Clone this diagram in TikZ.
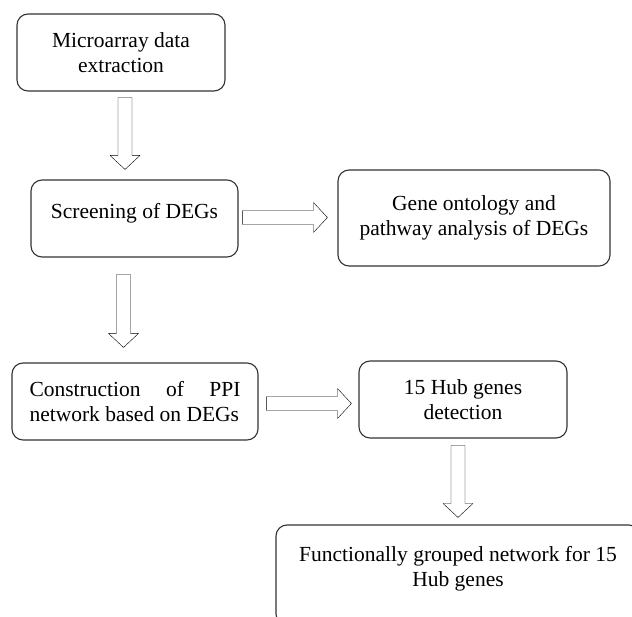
\documentclass[tikz,border=0pt]{standalone}
\usepackage{fontspec}
\setmainfont{Liberation Serif}
\usetikzlibrary{calc}

\begin{document}
\begin{tikzpicture}[x=1pt,y=-1pt, line join=round, font=\fontsize{21.5}{25}\selectfont,
	box/.style={draw=black!80, line width=1.1pt, rounded corners=11pt, align=center, inner sep=0pt},
	darr/.style={draw=black!70, line width=1.1pt, to path={let \p1=(\tikztostart), \p2=(\tikztotarget) in
		(\x1-7pt,\y1) -- (\x1-7pt,\y2+14pt) -- (\x1-15pt,\y2+14pt) -- (\x1,\y2) -- (\x1+15pt,\y2+14pt) -- (\x1+7pt,\y2+14pt) -- (\x1+7pt,\y1) -- cycle}},
	rarr/.style={draw=black!70, line width=1.1pt, to path={let \p1=(\tikztostart), \p2=(\tikztotarget) in
		(\x1,\y1+7pt) -- (\x2-14pt,\y1+7pt) -- (\x2-14pt,\y1+15pt) -- (\x2,\y1) -- (\x2-14pt,\y1-15pt) -- (\x2-14pt,\y1-7pt) -- (\x1,\y1-7pt) -- cycle}}]
	\useasboundingbox (0,0) rectangle (632,617);
	% Các khối
	\node[box, minimum width=208pt, minimum height=77pt] (mic) at (121,52.5) {Microarray data\\extraction};
	\node[box, minimum width=207pt, minimum height=77pt, text depth=15pt] (scr) at (134.5,218.5) {Screening of DEGs};
	\node[box, minimum width=272pt, minimum height=96pt] (gop) at (474,218) {Gene ontology and\\pathway analysis of DEGs};
	\node[box, minimum width=246pt, minimum height=77pt] (ppi) at (135,401.5) {\parbox{211pt}{\makebox[211pt][s]{Construction of PPI}\\network based on DEGs}};
	\node[box, minimum width=208pt, minimum height=77pt] (hub) at (463,399.5) {15 Hub genes\\detection};
	\node[box, minimum width=364pt, minimum height=100pt, text depth=18pt] (fgn) at (458,575) {Functionally grouped network for 15\\Hub genes};
	% Mũi tên
	\draw ($(mic.south)+(4,6)$) to[darr] ($(scr.north)+(0,-10)$);
	\draw ($(scr.east)+(4,-1)$) to[rarr] ($(gop.west)+(-10,0)$);
	\draw ($(scr.south)+(-11,17)$) to[darr] ($(ppi.north)+(0,-15)$);
	\draw ($(ppi.east)+(8,2)$) to[rarr] ($(hub.west)+(-7,0)$);
	\draw ($(hub.south)+(-5,7)$) to[darr] ($(fgn.north)+(0,-7)$);
\end{tikzpicture}
\end{document}
